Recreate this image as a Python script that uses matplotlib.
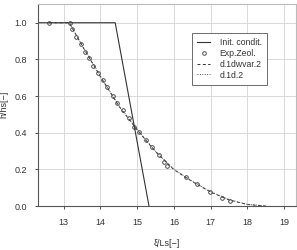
import matplotlib
matplotlib.use("Agg")
import matplotlib.pyplot as plt

plt.rcParams['font.family'] = ['Liberation Sans', 'DejaVu Sans']

init_x = [12.0, 14.4, 15.32]
init_y = [1.0, 1.0, 0.0]

exp_x = [12.6, 13.16, 13.23, 13.34, 13.46, 13.57, 13.69, 13.80, 13.92, 14.07, 14.18,
         14.33, 14.45, 14.60, 14.77, 14.90, 15.05, 15.23, 15.39, 15.58, 15.72, 15.81,
         16.32, 16.62, 16.98, 17.32, 17.53]
exp_y = [1.0, 1.0, 0.964, 0.924, 0.884, 0.842, 0.806, 0.764, 0.727, 0.687, 0.648,
         0.600, 0.560, 0.522, 0.478, 0.432, 0.403, 0.360, 0.320, 0.278, 0.242, 0.220,
         0.158, 0.121, 0.078, 0.042, 0.025]

dw_x = [12.6, 13.15, 13.5, 14.0, 14.5, 15.0, 15.5, 16.0, 16.5, 17.0, 17.5, 18.0, 18.5]
dw_y = [1.0, 1.0, 0.875, 0.705, 0.545, 0.415, 0.296, 0.198, 0.133, 0.076, 0.033, 0.008, 0.0]

d1_x = [12.6, 13.15, 13.5, 14.0, 14.5, 15.0, 15.5, 16.0, 16.5, 17.0, 17.5, 18.0, 18.5]
d1_y = [1.0, 1.0, 0.877, 0.708, 0.548, 0.418, 0.298, 0.200, 0.135, 0.078, 0.035, 0.009, 0.0]

xticks = [13, 14, 15, 16, 17, 18, 19]
yticks = [0.0, 0.2, 0.4, 0.6, 0.8, 1.0]

fig = plt.figure(figsize=(2.97, 2.50), dpi=100)
ax = fig.add_axes([38/297, 1 - 206/250, (296 - 38)/297, (206 - 3.5)/250])

ax.plot(init_x, init_y, color='#333333', lw=0.8, label='Init. condit.')
ax.plot(exp_x, exp_y, linestyle='none', marker='o', ms=2.6, mfc='none',
        mec='#333333', mew=0.6, label='Exp.Zeol.')
ax.plot(dw_x, dw_y, color='#333333', lw=0.7, ls=(0, (3, 2.5)), label='d.1dwvar.2')
ax.plot(d1_x, d1_y, color='#555555', lw=0.7, ls=(0, (1, 1.5)), label='d.1d.2')

ax.set_xlim(12.3, 19.32)
ax.set_ylim(0, 1.105)
ax.set_xticks(xticks)
ax.set_yticks(yticks)
ax.set_yticklabels([f"{v:.1f}" for v in yticks])
ax.grid(True, color='#d9d9d9', lw=0.7)
ax.set_axisbelow(True)

for s in ['top', 'right']:
    ax.spines[s].set_color('#bbbbbb')
    ax.spines[s].set_linewidth(0.8)
for s in ['left', 'bottom']:
    ax.spines[s].set_color('#555555')
    ax.spines[s].set_linewidth(0.8)

ax.tick_params(axis='both', labelsize=6.5, colors='#333333', length=2, width=0.6,
               direction='out', pad=6)
ax.tick_params(axis='x', pad=6.4)

ax.set_xlabel('ξ/Ls[−]', fontsize=6.5, color='#333333', labelpad=9)
ax.set_ylabel('h/hs[−]', fontsize=6.5, color='#333333', labelpad=4)

leg = ax.legend(loc='upper left', bbox_to_anchor=(0.597, 0.856), fontsize=6.2,
                frameon=True, fancybox=False, edgecolor='#555555', framealpha=1,
                handlelength=1.5, borderpad=0.6, labelspacing=0.22, handletextpad=1.1,
                borderaxespad=0)
leg.get_frame().set_linewidth(0.6)
for t in leg.get_texts():
    t.set_color('#333333')

fig.savefig('out.png', dpi=100)
